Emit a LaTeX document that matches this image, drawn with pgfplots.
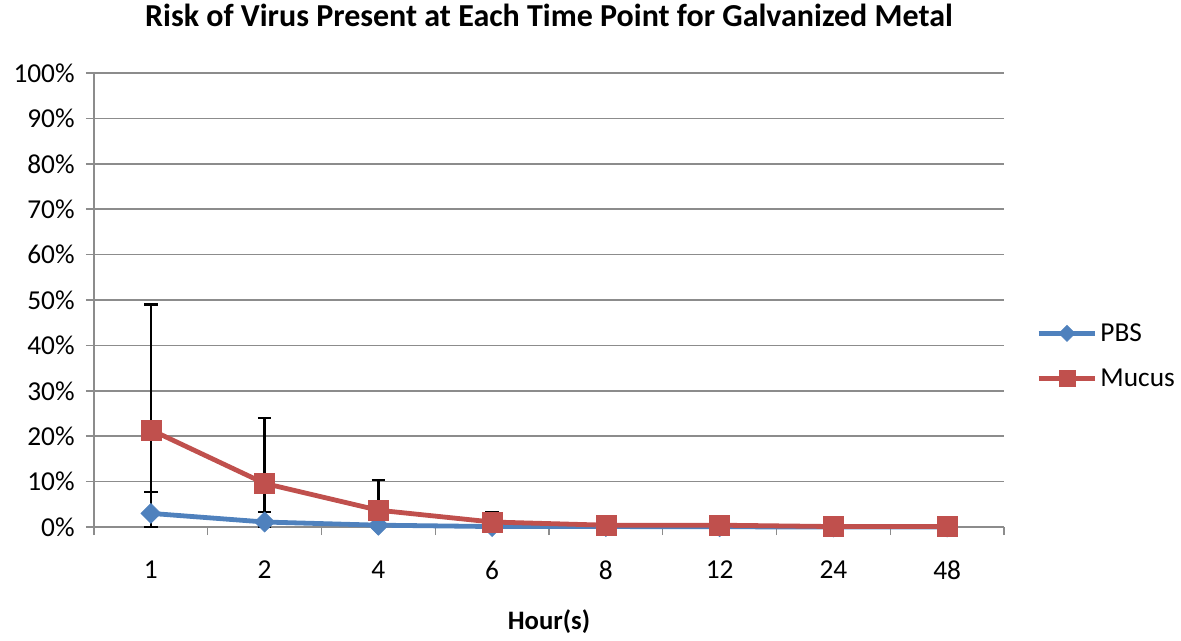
\documentclass[border=0pt]{standalone}
\usepackage{fontspec}
\setmainfont{Carlito}
\usepackage{pgfplots}
\pgfplotsset{compat=1.18}
\definecolor{pbsblue}{HTML}{4F81BD}
\definecolor{mucred}{HTML}{C0504D}
\definecolor{gridgray}{HTML}{8C8C8C}
\begin{document}
\begin{tikzpicture}
\path[use as bounding box] (-70.5pt,-84.75pt) rectangle (815.25pt,395.25pt);
\begin{axis}[
    scale only axis,
    width=682.5pt, height=340.5pt,
    xmin=-0.5, xmax=7.5,
    ymin=0, ymax=100,
    axis x line*=bottom, axis y line*=left,
    axis line style={gridgray, line width=1.1pt, -},
    xtick={0,...,7},
    xticklabels={1,2,4,6,8,12,24,48},
    minor xtick={-0.5,0.5,...,7.5},
    major x tick style={draw=none},
    minor x tick style={gridgray, line width=1.1pt},
    minor tick length=6pt,
    ytick={0,10,...,100},
    yticklabels={0\%,10\%,20\%,30\%,40\%,50\%,60\%,70\%,80\%,90\%,100\%},
    major y tick style={gridgray, line width=1.1pt},
    tick align=outside,
    major tick length=6pt,
    ymajorgrids,
    grid style={gridgray, line width=1.1pt},
    tick label style={font=\fontsize{20.5}{24}\selectfont},
    yticklabel style={xshift=-5pt},
    xticklabel style={yshift=-16pt},
    title={\bfseries Risk of Virus Present at Each Time Point for Galvanized Metal},
    title style={font=\fontsize{24}{28}\selectfont, at={(0.5,1)}, anchor=south, yshift=25pt},
    xlabel={\bfseries Hour(s)},
    xlabel style={font=\fontsize{20}{24}\selectfont, at={(0.5,0)}, anchor=center, yshift=-71pt},
    legend style={draw=none, fill=none, at={(1.035,0.377)}, anchor=west,
        font=\fontsize{20.5}{24}\selectfont, row sep=15pt, legend cell align=left,
        inner xsep=0pt},
    legend image code/.code={%
        \draw[mark repeat=2, mark phase=2, #1, every mark/.append style={scale=0.8}]
            plot coordinates {(0cm,0cm) (0.75cm,0cm) (1.5cm,0cm)};},
    clip=false,
]
\addplot[color=pbsblue, line width=3.6pt, mark=square*, mark size=5.3pt,
    mark options={fill=pbsblue, draw=pbsblue, line width=0.5pt, rotate=45},
    error bars/.cd, y dir=both, y explicit,
    error bar style={black, line width=1.8pt},
    error mark options={black, line width=1.8pt, mark size=5pt, rotate=90}]
    coordinates {
    (0,3.0) += (0,4.7) -= (0,3.0)
    (1,1.1) += (0,2.2) -= (0,1.1)
    (2,0.4) += (0,0) -= (0,0)
    (3,0.1) += (0,0) -= (0,0)
    (4,0.1) += (0,0) -= (0,0)
    (5,0.05) += (0,0) -= (0,0)
    (6,0.0) += (0,0) -= (0,0)
    (7,0.0) += (0,0) -= (0,0)
    };
\addlegendentry{PBS}
\addplot[color=mucred, line width=3.6pt, mark=square*, mark size=7.5pt,
    mark options={fill=mucred, draw=mucred, line width=0.5pt},
    error bars/.cd, y dir=both, y explicit,
    error bar style={black, line width=1.8pt},
    error mark options={black, line width=1.8pt, mark size=5pt, rotate=90}]
    coordinates {
    (0,21.4) += (0,27.6) -= (0,21.4)
    (1,9.6) += (0,14.4) -= (0,9.6)
    (2,3.7) += (0,6.6) -= (0,3.7)
    (3,1.1) += (0,2.2) -= (0,1.1)
    (4,0.4) += (0,0) -= (0,0)
    (5,0.4) += (0,0) -= (0,0)
    (6,0.1) += (0,0) -= (0,0)
    (7,0.1) += (0,0) -= (0,0)
    };
\addlegendentry{Mucus}
\end{axis}
\end{tikzpicture}
\end{document}
